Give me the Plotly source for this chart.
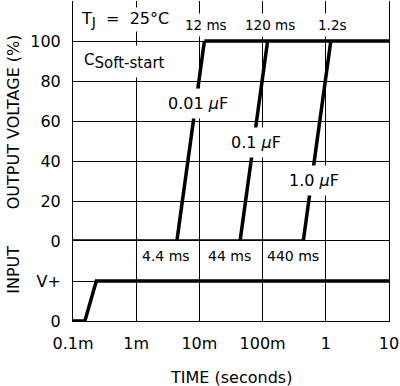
import math
import plotly.graph_objects as go

# ---- data ----
capacitors = ["0.01 <i>µ</i>F", "0.1 <i>µ</i>F", "1.0 <i>µ</i>F"]
ramp_start_s = [0.0044, 0.044, 0.44]      # output starts rising (0 %)
ramp_end_s = [0.012, 0.12, 1.2]           # output reaches 100 %
start_labels = ["4.4 ms", "44 ms", "440 ms"]
end_labels = ["12 ms", "120 ms", "1.2s"]
label_level_pct = [69, 49.5, 30.5]        # where the capacitor label sits on each ramp

output_low_pct = 0
output_high_pct = 100
x_min_s = 1e-4
x_max_s = 10

input_t = [1e-4, 1.54e-4, 2.34e-4, 10]
input_level = [0, 0, 1, 1]                # 0 -> "0", 1 -> "V+"

x_tickvals = [1e-4, 1e-3, 1e-2, 1e-1, 1, 10]
x_ticktext = ["0.1m", "1m", "10m", "100m", "1", "10"]
y_tickvals = [0, 20, 40, 60, 80, 100]
y2_tickvals = [0, 1]
y2_ticktext = ["0", "V+"]

FONT = "DejaVu Sans"
LW = 3.5

fig = go.Figure()
line = dict(color="black", width=LW)

# bottom output line (0 %) until the last ramp starts
fig.add_trace(go.Scatter(x=[x_min_s, max(ramp_start_s)], y=[output_low_pct, output_low_pct],
                         mode="lines", line=line, yaxis="y", showlegend=False, hoverinfo="skip"))
# top output line (100 %) from the first ramp end
fig.add_trace(go.Scatter(x=[min(ramp_end_s), x_max_s], y=[output_high_pct, output_high_pct],
                         mode="lines", line=line, yaxis="y", showlegend=False, hoverinfo="skip"))
for s, e in zip(ramp_start_s, ramp_end_s):
    fig.add_trace(go.Scatter(x=[s, e], y=[output_low_pct, output_high_pct], mode="lines",
                             line=line, yaxis="y", showlegend=False, hoverinfo="skip"))
# input
fig.add_trace(go.Scatter(x=input_t, y=input_level, mode="lines", line=line, yaxis="y2",
                         showlegend=False, hoverinfo="skip"))

ann = []
for s, e, txt in zip(ramp_start_s, ramp_end_s, end_labels):
    ann.append(dict(x=math.log10(e) + 0.03, y=108, xref="x", yref="y", text=txt,
                    xanchor="center", yanchor="middle",
                    showarrow=False, font=dict(family=FONT, size=13.5, color="black"),
                    bgcolor="white", borderpad=3))
for s, txt in zip(ramp_start_s, start_labels):
    ann.append(dict(x=math.log10(s) - 0.17, y=1.62, xref="x", yref="y2", text=txt,
                    xanchor="center", yanchor="middle",
                    showarrow=False, font=dict(family=FONT, size=14, color="black"),
                    bgcolor="white", borderpad=2))
for s, e, txt, lv in zip(ramp_start_s, ramp_end_s, capacitors, label_level_pct):
    ls, le = math.log10(s), math.log10(e)
    ann.append(dict(x=ls + (le - ls) * lv / 100 + 0.04, y=lv, xref="x", yref="y", text=txt,
                    xanchor="center", yanchor="middle",
                    showarrow=False, font=dict(family=FONT, size=16, color="black"),
                    bgcolor="white", borderpad=5))

ann.append(dict(x=0.166, y=111, xref="paper", yref="y",
                text="T<sub><span style='font-size:14px'>J</span></sub>  =  25°C",
                xanchor="center", yanchor="middle",
                showarrow=False, font=dict(family=FONT, size=16, color="black"),
                bgcolor="white", borderpad=1))
ann.append(dict(x=0.163, y=90, xref="paper", yref="y",
                text="C<sub><span style='font-size:15px'>Soft-start</span></sub>",
                xanchor="center", yanchor="middle",
                showarrow=False, font=dict(family=FONT, size=15, color="black"),
                bgcolor="white", borderpad=5))

title_font = dict(family=FONT, size=16, color="black")
ann.append(dict(x=0.5, y=-0.175, xref="paper", yref="paper", text="TIME (seconds)",
                xanchor="center", yanchor="middle", showarrow=False, font=title_font))
ann.append(dict(x=-0.188, y=0.623, xref="paper", yref="paper", text="OUTPUT VOLTAGE (%)",
                xanchor="center", yanchor="middle",
                textangle=-90, showarrow=False, font=title_font))
ann.append(dict(x=-0.188, y=0.159, xref="paper", yref="paper", text="INPUT",
                xanchor="center", yanchor="middle",
                textangle=-90, showarrow=False, font=title_font))

axis_common = dict(showgrid=True, gridcolor="black", gridwidth=1, showline=True,
                   linecolor="black", linewidth=1, mirror=True, ticks="", zeroline=False,
                   tickfont=dict(family=FONT, size=16, color="black"))

fig.update_layout(
    width=400, height=386,
    margin=dict(l=73, r=8, t=1, b=65),
    paper_bgcolor="white", plot_bgcolor="white",
    showlegend=False,
    xaxis=dict(type="log", range=[math.log10(x_min_s), math.log10(x_max_s)],
               tickvals=x_tickvals, ticktext=x_ticktext, anchor="y2",
               ticklabelstandoff=8, ticklabeloverflow="allow", **axis_common),
    yaxis=dict(domain=[0.25, 1], range=[0, 120], tickvals=y_tickvals, anchor="x",
               ticklabelstandoff=8, **axis_common),
    yaxis2=dict(domain=[0, 0.25], range=[0, 2], tickvals=y2_tickvals, ticktext=y2_ticktext,
                anchor="x", ticklabelstandoff=8, **axis_common),
    annotations=ann,
)

fig.write_html("out.html", config={"displayModeBar": False, "staticPlot": True},
               post_script="document.body.style.margin='0';")
